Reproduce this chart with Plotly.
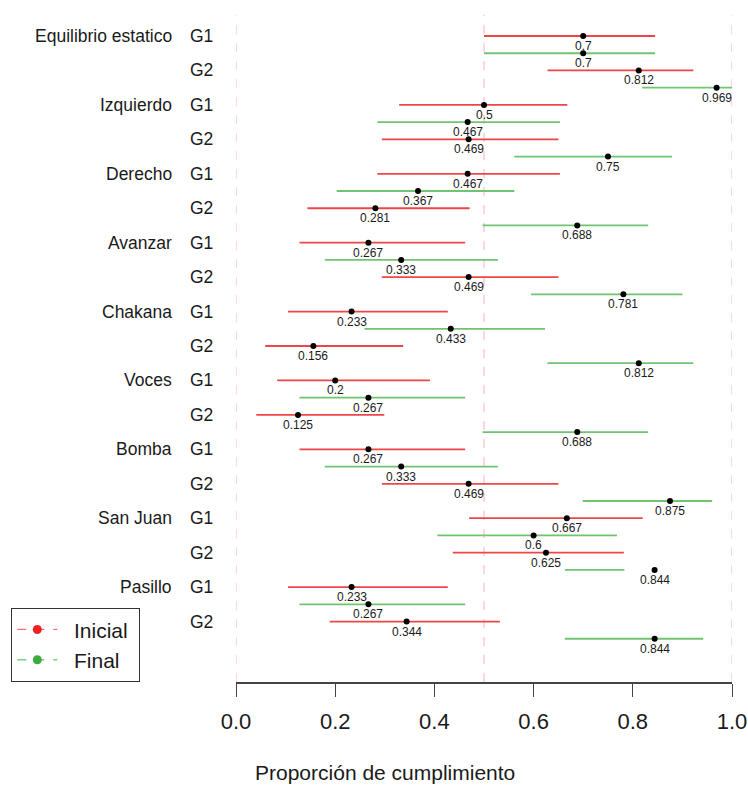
import plotly.graph_objects as go

categories = ["Equilibrio estatico", "Izquierdo", "Derecho", "Avanzar", "Chakana",
              "Voces", "Bomba", "San Juan", "Pasillo"]
groups = ["G1", "G2"]

# Point estimates
ini_g1 = [0.7, 0.5, 0.467, 0.267, 0.233, 0.2, 0.267, 0.667, 0.233]
fin_g1 = [0.7, 0.467, 0.367, 0.333, 0.433, 0.267, 0.333, 0.6, 0.267]
ini_g2 = [0.812, 0.469, 0.281, 0.469, 0.156, 0.125, 0.469, 0.625, 0.344]
fin_g2 = [0.969, 0.75, 0.688, 0.781, 0.812, 0.688, 0.875, 0.844, 0.844]

# Interval bounds
ini_g1_lo = [0.500, 0.329, 0.285, 0.128, 0.105, 0.083, 0.128, 0.470, 0.105]
ini_g1_hi = [0.845, 0.668, 0.653, 0.462, 0.427, 0.391, 0.462, 0.820, 0.427]
fin_g1_lo = [0.500, 0.285, 0.203, 0.179, 0.259, 0.128, 0.179, 0.406, 0.128]
fin_g1_hi = [0.845, 0.653, 0.561, 0.528, 0.623, 0.462, 0.528, 0.768, 0.462]
ini_g2_lo = [0.628, 0.294, 0.144, 0.294, 0.059, 0.041, 0.294, 0.437, 0.189]
ini_g2_hi = [0.922, 0.650, 0.471, 0.650, 0.337, 0.299, 0.650, 0.782, 0.532]
fin_g2_lo = [0.819, 0.561, 0.497, 0.595, 0.628, 0.497, 0.699, 0.663, 0.663]
fin_g2_hi = [1.000, 0.879, 0.831, 0.900, 0.922, 0.831, 0.960, 0.783, 0.942]

x_ticks = [0.0, 0.2, 0.4, 0.6, 0.8, 1.0]
x_title = "Proporción de cumplimiento"
legend_names = ["Inicial", "Final"]

RED = "#EE4646"
GREEN = "#70C470"
FONT = "Liberation Sans, Arial, sans-serif"
TXT = "#1a1a1a"
NB = "\u00a0"

# rows: per category -> G1 Inicial, G1 Final, G2 Inicial, G2 Final
series = [
    (ini_g1, ini_g1_lo, ini_g1_hi, RED, 1),
    (fin_g1, fin_g1_lo, fin_g1_hi, GREEN, 2),
    (ini_g2, ini_g2_lo, ini_g2_hi, RED, 3),
    (fin_g2, fin_g2_lo, fin_g2_hi, GREEN, 4),
]

fig = go.Figure()
annotations = []
for est, lo, hi, col, off in series:
    xs, ys = [], []
    for i in range(len(categories)):
        r = 4 * i + off
        xs += [lo[i], hi[i], None]
        ys += [r, r, None]
    fig.add_trace(go.Scatter(x=xs, y=ys, mode="lines", line=dict(color=col, width=1.8),
                             showlegend=False, hoverinfo="skip", cliponaxis=False))

for est, lo, hi, col, off in series:
    rows = [4 * i + off for i in range(len(categories))]
    fig.add_trace(go.Scatter(x=est, y=rows, mode="markers",
                             marker=dict(color="black", size=6),
                             showlegend=False, cliponaxis=False))
    for v, r in zip(est, rows):
        annotations.append(dict(x=v, y=r, xref="x", yref="y", text=f"{v:g}",
                                showarrow=False, yshift=-10,
                                font=dict(size=12, color=TXT, family=FONT)))

# legend-only traces
fig.add_trace(go.Scatter(x=[None], y=[None], mode="lines+markers",
                         name=NB * 2 + legend_names[0] + NB,
                         line=dict(color="#F27070", width=1.3, dash="dash"),
                         marker=dict(color="#EE2222", size=9)))
fig.add_trace(go.Scatter(x=[None], y=[None], mode="lines+markers",
                         name=NB * 2 + legend_names[1],
                         line=dict(color="#80CC80", width=1.3, dash="dash"),
                         marker=dict(color="#3DAA3D", size=9)))

# left labels
for i, c in enumerate(categories):
    annotations.append(dict(x=-0.125, y=4 * i + 1, xref="paper", yref="y", text=c,
                            xanchor="right", showarrow=False,
                            font=dict(size=17.5, color=TXT, family=FONT)))
    for j, g in enumerate(groups):
        annotations.append(dict(x=-0.097, y=4 * i + 1 + 2 * j, xref="paper", yref="y",
                                text=g, xanchor="left", showarrow=False,
                                font=dict(size=17.5, color=TXT, family=FONT)))

annotations.append(dict(x=0.2994, y=-0.1364, xref="paper", yref="paper", text=x_title,
                        showarrow=False, xanchor="center", yanchor="middle",
                        font=dict(size=21, color=TXT, family=FONT)))

shapes = [dict(type="line", x0=v, x1=v, xref="x", y0=0, y1=1, yref="paper",
               line=dict(color="#FFC0CB", width=1.3, dash="dash"), layer="below")
          for v in [0.0, 0.5, 1.0]]

fig.update_layout(
    width=748, height=785,
    margin=dict(l=236, r=16, t=15, b=103, autoexpand=False),
    plot_bgcolor="white", paper_bgcolor="white",
    showlegend=True,
    legend=dict(x=-0.4536, y=0, xanchor="left", yanchor="bottom",
                bordercolor="#333333", borderwidth=1.3, bgcolor="white",
                font=dict(size=21, color=TXT, family=FONT), itemwidth=40,
                tracegroupgap=0),
    annotations=annotations,
    shapes=shapes,
    xaxis=dict(range=[0, 1], tickvals=x_ticks, ticktext=[f"{t:.1f}" for t in x_ticks],
               showgrid=False, zeroline=False, showline=True, linecolor="#444444",
               linewidth=1.5, ticks="outside", ticklen=13, tickwidth=1.3,
               tickcolor="#444444", ticklabelstandoff=6, automargin=False,
               tickfont=dict(size=22, color=TXT, family=FONT)),
    yaxis=dict(range=[38.51, -0.22], visible=False),
)

fig.write_html("out.html", config={"displayModeBar": False},
               post_script="document.body.style.margin='0';document.body.style.overflow='hidden';")
